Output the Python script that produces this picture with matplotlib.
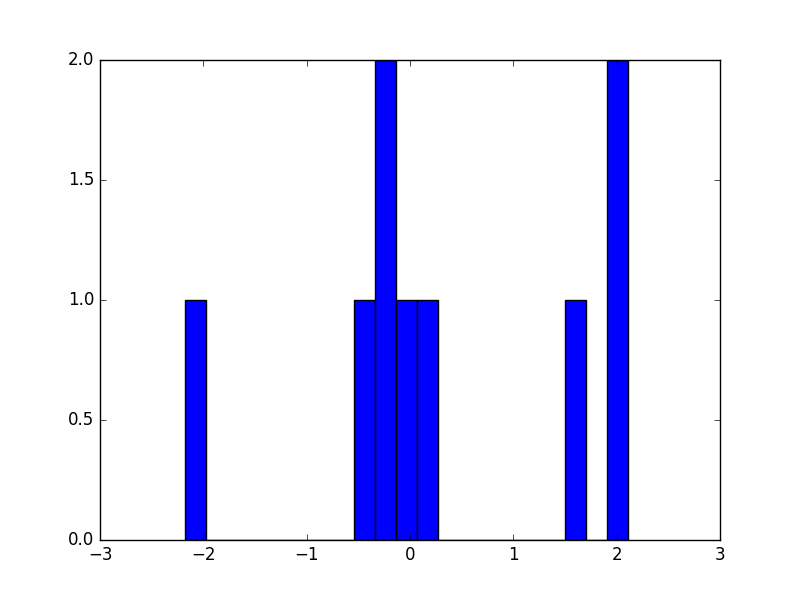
import numpy as np
import matplotlib
matplotlib.use("Agg")
import matplotlib.pyplot as plt

plt.style.use("classic")

# histogram: 21 equal bins between these limits
bin_low = -2.177
bin_high = 2.112
n_bins = 21
counts = [1, 0, 0, 0, 0, 0, 0, 0, 1, 2, 1, 1, 0, 0, 0, 0, 0, 0, 1, 0, 2]

edges = np.linspace(bin_low, bin_high, n_bins + 1)
centers = (edges[:-1] + edges[1:]) / 2

fig = plt.figure(figsize=(8, 6), dpi=100, facecolor="white")
ax = fig.add_subplot(111)
ax.hist(centers, bins=edges, weights=counts, color="b", edgecolor="k")
ax.set_xlim(-3, 3)
ax.set_ylim(0, 2)
ax.set_xticks([-3, -2, -1, 0, 1, 2, 3])
ax.set_yticks([0.0, 0.5, 1.0, 1.5, 2.0])
fig.savefig("out.png", dpi=100, facecolor="white")
